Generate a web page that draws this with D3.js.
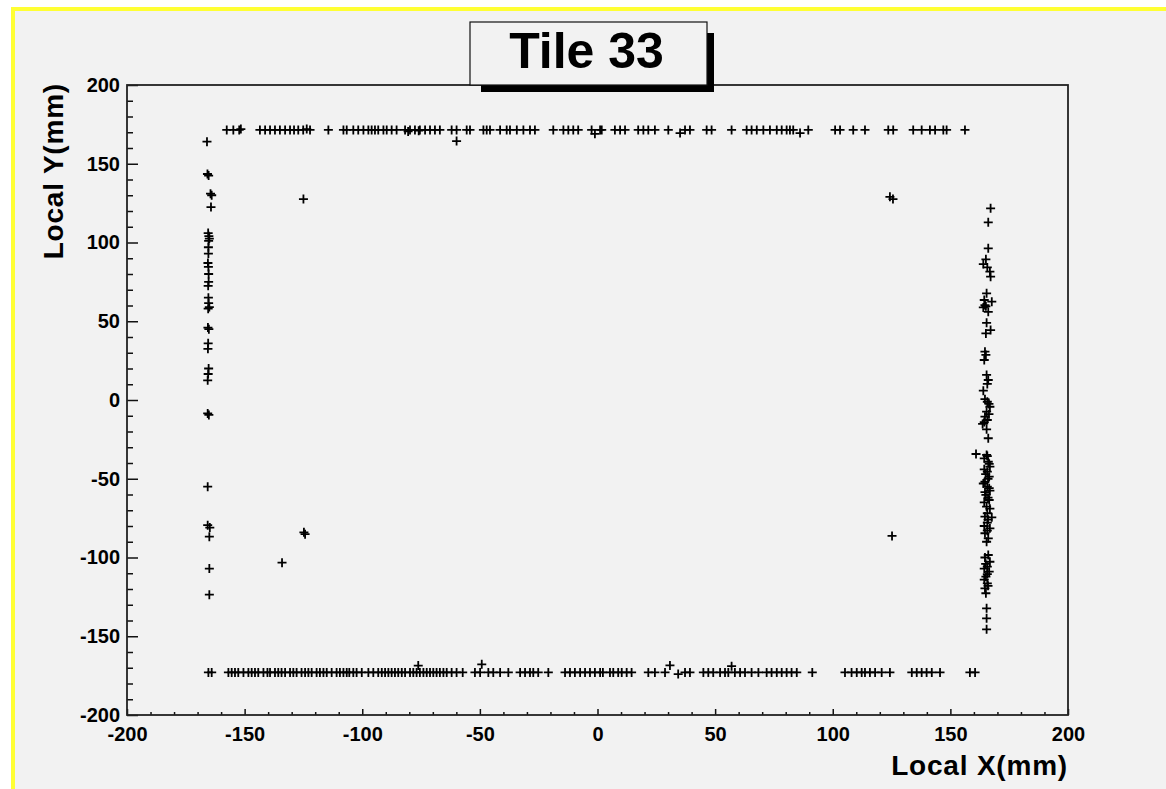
<!DOCTYPE html>
<html>
<head>
<meta charset="utf-8">
<title>Tile 33</title>
<script src="https://cdn.jsdelivr.net/npm/d3@7"></script>
<style>
  body { margin: 0; background: #fff; }
  svg { display: block; font-family: "Liberation Sans", Arial, sans-serif; font-weight: bold; }
</style>
</head>
<body>
<div id="chart"></div>
<script>
// axis ticks (mm)
const xTickLabels = [-200, -150, -100, -50, 0, 50, 100, 150, 200];
const yTickLabels = [-200, -150, -100, -50, 0, 50, 100, 150, 200];

// hits along the top edge [x, y]
const topEdge = [
  [-157.6, 171.5], [-154.8, 171.5], [-152.3, 171.5], [-151.6, 172],
  [-143.5, 171.5], [-141.3, 171.5], [-139.2, 171.5], [-137.1, 171.5], [-135, 171.5], [-132.8, 171.5],
  [-130.7, 171.5], [-129, 171.5], [-127.2, 171.5], [-125.1, 171.5], [-123.6, 172], [-122.2, 171.5],
  [-114.4, 171.5],
  [-108, 171.5], [-106.6, 171.5], [-103.8, 171.5], [-101.7, 171.5], [-99.5, 171.5], [-97.4, 171.5],
  [-96, 171.5], [-94.6, 171.5], [-93.2, 171.5], [-91, 171.5], [-89.6, 171.5], [-87.5, 171.5], [-85.4, 171.5],
  [-81.8, 171.5], [-80.5, 170.5], [-79.7, 171.5], [-77.6, 171.5], [-76, 171], [-75.5, 171.5],
  [-73.3, 171.5], [-71.2, 171.5], [-69.1, 171.5], [-67, 171.5],
  [-62, 171.5], [-59.9, 171.5], [-55.6, 171.5], [-54.2, 171.5],
  [-48.5, 171.5], [-47.1, 171.5], [-45.7, 171.5],
  [-41.4, 171.5], [-38.6, 171.5], [-37.2, 171.5], [-34.3, 171.5],
  [-31.5, 171.5], [-28.7, 171.5], [-26.6, 171.5],
  [-18.8, 171.5], [-14.5, 171.5], [-12.4, 171.5], [-10.3, 171.5], [-8.2, 171.5],
  [-2.5, 171.5], [-1.1, 169], [1.1, 171.5], [1.8, 171.5],
  [7.4, 171.5], [9.6, 171.5], [11.7, 171.5],
  [17.3, 171.5], [19.5, 171.5], [21.6, 171.5], [24.4, 171.5],
  [30.1, 171.5], [35.1, 169.5], [37.2, 171.5], [39.3, 171.5],
  [46.4, 171.5], [48.5, 171.5],
  [57, 171.5],
  [63.4, 171.5], [65.5, 171.5], [67.7, 171.5], [70.5, 171.5], [73.3, 171.5], [76.2, 171.5],
  [78.3, 171.5], [80.4, 171.5], [81.8, 171.5], [83.2, 171.5], [86.1, 169.5], [89.6, 171.5],
  [101, 171.5], [103.1, 171.5], [108.7, 171.5], [113.7, 171.5],
  [123.6, 171.5], [125.7, 171.5],
  [134.2, 171.5], [137.8, 171.5], [141.3, 171.5], [143.5, 171.5], [147, 171.5], [148.4, 171.5],
  [156.2, 171.5]
];

// hits along the bottom edge [x, y]
const bottomEdge = [
  [-165.4, -173], [-164, -173],
  [-156.9, -173], [-155.5, -173], [-154.1, -173], [-152.7, -173], [-150.5, -173], [-148.4, -173],
  [-147, -173], [-145.6, -173], [-144.2, -173], [-142, -173], [-140.3, -173], [-139.2, -173],
  [-137.1, -173], [-135.7, -173], [-134.3, -173], [-132.8, -173], [-130.7, -173], [-129.3, -173],
  [-127.9, -173], [-125.8, -173], [-124.3, -173], [-122.9, -173], [-121.5, -173], [-119.4, -173],
  [-118, -173], [-116.5, -173], [-115.1, -173], [-113, -173], [-110.9, -173], [-109.5, -173],
  [-108, -173], [-106.6, -173], [-105.5, -173], [-103.8, -173], [-102.4, -173], [-100.2, -173],
  [-97.4, -173], [-95.3, -173], [-93.2, -173], [-91.7, -173], [-90.3, -173], [-88.9, -173],
  [-87.5, -173], [-86.1, -173], [-84.7, -173], [-83.2, -173], [-81.8, -173], [-79.7, -173],
  [-78.3, -173], [-76.9, -173], [-76.2, -168.6], [-75.5, -173], [-74, -173], [-72.6, -173],
  [-71.2, -173], [-69.8, -173], [-68.4, -173], [-67, -173], [-65.5, -173], [-64.1, -173],
  [-62, -173], [-59.9, -173], [-57.3, -173],
  [-52.1, -173], [-49.9, -173], [-49.2, -167.8], [-46.4, -173], [-44.3, -173], [-41.4, -173], [-37.9, -173],
  [-32.9, -173], [-30.8, -173], [-28.7, -173], [-27.3, -173], [-25.2, -173], [-20.9, -173],
  [-13.8, -173], [-11.7, -173], [-9.6, -173], [-7.4, -173], [-5.3, -173], [-3.2, -173], [-1.1, -173],
  [1.1, -173], [2.3, -173], [5.3, -173], [6.7, -173], [8.8, -173], [10.3, -173], [12.4, -173], [14.5, -173],
  [21.6, -173], [24.4, -173], [28.7, -173], [30.8, -168.5], [34.3, -174], [37.2, -173], [39.3, -173],
  [45, -173], [47.1, -173], [49.2, -173], [52.1, -173], [54.2, -173], [55.6, -173], [57, -169],
  [58.4, -173], [60.6, -173], [62.7, -173], [65.5, -173], [68.4, -173],
  [71.9, -173], [74, -173], [76.2, -173], [78.3, -173], [80.4, -173], [82.5, -173], [84.7, -173],
  [91.3, -173],
  [105.2, -173], [108, -173], [110.2, -173], [112.3, -173], [113.7, -173], [115.8, -173],
  [118, -173], [120.8, -173], [124.3, -173],
  [133.6, -173], [135.7, -173], [137.8, -173], [139.9, -173], [142.1, -173], [145.6, -173],
  [158.3, -173], [160.5, -173]
];

// hits along the left edge [x, y]
const leftEdge = [
  [-166, 164], [-165.8, 143.5], [-165.3, 142.5], [-164.5, 131], [-164, 130], [-164.3, 122.5],
  [-165.5, 106], [-165.2, 104], [-165, 102.5], [-165.3, 101], [-165.4, 97], [-165.4, 93],
  [-165.6, 87], [-165.4, 84.5], [-165.3, 80], [-165.3, 75], [-165.5, 72.5], [-165.4, 65],
  [-165.3, 61.5], [-165, 59], [-165.5, 58], [-165.6, 46], [-165.2, 45], [-165.5, 36],
  [-165.6, 32.5], [-165.3, 20], [-165.5, 16.5], [-165.7, 12.5], [-165.7, -8.5], [-165.2, -9.5],
  [-165.7, -55], [-165.7, -79.5], [-164.8, -81], [-165, -86.8], [-165, -107], [-165, -123.6]
];

// hits along the right edge [x, y]
const rightEdge = [
  [167.1, 121.7], [166.1, 112.8], [166.1, 96.3], [165.1, 89.3], [164, 86.3], [165.7, 84.2],
  [166.8, 81.5], [167.1, 78.3], [165.4, 67.7], [164.4, 63.5], [167.6, 62.4], [164.7, 60.3], [165.1, 59.5],
  [164, 58.8], [166.1, 56], [165.4, 49], [167.1, 44.4], [165.1, 42.3], [164.7, 30.7], [165.1, 28.6],
  [164.4, 25.4], [165.4, 15.9], [166.1, 12.7], [165.7, 10.2], [164, 5.9], [164.7, 0.5], [165.7, -1.1],
  [166.4, -2.5], [166.8, -4.3], [165.4, -7.4], [166.4, -9], [164.7, -10.6], [165.7, -12.7], [164.4, -14],
  [163.7, -15.2], [165.4, -18.6], [166.1, -24.3], [160.9, -34.3], [165.7, -35.6],
  [165.4, -34.9], [164.4, -37], [166.1, -39.2], [166.5, -40.5], [166.8, -42.3], [164.4, -44],
  [165.7, -45.5], [165, -47], [166.5, -48.7], [166, -50], [164.7, -51.9], [164, -53], [165.7, -55],
  [166.5, -56], [166.8, -57.6], [164.7, -58.5], [165.1, -60.3], [166, -62], [166.5, -63.5],
  [164.4, -65], [165.4, -67.7], [166.8, -69], [165.7, -71.9], [164.7, -74], [167.6, -74.5],
  [166, -76], [165.7, -77.9], [164.4, -80], [166.8, -81.5], [165.7, -83], [164.7, -84.6],
  [166.1, -87.8], [165.4, -90],
  [166.1, -98.4], [164.7, -100], [166.8, -102.7], [165, -104], [165.7, -105.8], [164.4, -107],
  [166.5, -109], [165.7, -110.5], [165.1, -112.2], [164.4, -114], [165.7, -116.4], [166, -118],
  [164.7, -119.6], [165.1, -122.7],
  [165.4, -132.3], [165.4, -138.6], [165.4, -145.6]
];

// isolated hits inside the tile
const strayHits = [
  [-125, 127.6], [124.3, 129], [125.6, 127.6], [-59.9, 164.4],
  [-124.8, -84], [-124.3, -85.2], [-134.1, -103.3], [125.2, -86.3]
];

const W = 1166, H = 789;
const plot = { left: 127, top: 85, right: 1068, bottom: 715 };

const svg = d3.select('#chart').append('svg')
  .attr('width', W)
  .attr('height', H);

// canvas: white page, yellow edge, grey pad
svg.append('rect').attr('width', W).attr('height', H).attr('fill', '#fff');
svg.append('rect').attr('x', 11).attr('y', 7).attr('width', W).attr('height', H).attr('fill', '#ffff33');
svg.append('rect').attr('x', 15).attr('y', 11).attr('width', W).attr('height', H).attr('fill', '#f2f2f2');

const x = d3.scaleLinear().domain([-200, 200]).range([plot.left, plot.right]);
const y = d3.scaleLinear().domain([-200, 200]).range([plot.bottom, plot.top]);

// minor ticks every 10 mm, major every 50 mm, drawn inward
const minorX = d3.range(-200, 201, 10).filter(v => !xTickLabels.includes(v));
const minorY = d3.range(-200, 201, 10).filter(v => !yTickLabels.includes(v));
const plain = d => String(d); // ASCII hyphen, like ROOT

const xAxisG = svg.append('g').attr('transform', `translate(0,${plot.bottom})`);
xAxisG.append('g')
  .call(d3.axisBottom(x).tickValues(minorX).tickSize(-3).tickFormat(''));
xAxisG.append('g')
  .call(d3.axisBottom(x).tickValues(xTickLabels).tickSize(-6).tickPadding(12).tickFormat(plain));

const yAxisG = svg.append('g').attr('transform', `translate(${plot.left},0)`);
yAxisG.append('g')
  .call(d3.axisLeft(y).tickValues(minorY).tickSize(-6).tickFormat(''));
yAxisG.append('g')
  .call(d3.axisLeft(y).tickValues(yTickLabels).tickSize(-11).tickPadding(7).tickFormat(plain));

svg.selectAll('.domain').remove();
svg.selectAll('.tick line').attr('stroke', '#111').attr('stroke-width', 1.5);
svg.selectAll('.tick text')
  .attr('fill', '#000')
  .style('font-family', '"Liberation Sans", Arial, sans-serif')
  .style('font-weight', 'bold')
  .style('font-size', '20px');

// frame
svg.append('rect')
  .attr('x', plot.left).attr('y', plot.top)
  .attr('width', plot.right - plot.left).attr('height', plot.bottom - plot.top)
  .attr('fill', 'none')
  .attr('stroke', '#222')
  .attr('stroke-width', 1.8);

// markers: ROOT style "+"
const allHits = [].concat(topEdge, bottomEdge, leftEdge, rightEdge, strayHits);
svg.append('g')
  .selectAll('path')
  .data(allHits)
  .join('path')
  .attr('transform', d => `translate(${x(d[0])},${y(d[1])})`)
  .attr('d', 'M-4.5,0H4.5M0,-4.5V4.5')
  .attr('fill', 'none')
  .attr('stroke', '#000')
  .attr('stroke-width', 1.8);

// axis titles
svg.append('text')
  .attr('x', plot.right)
  .attr('y', 775)
  .attr('text-anchor', 'end')
  .style('font-size', '28px')
  .style('letter-spacing', '0.8px')
  .text('Local X(mm)');

svg.append('text')
  .attr('transform', `translate(63,${plot.top - 2}) rotate(-90)`)
  .attr('text-anchor', 'end')
  .style('font-size', '28px')
  .style('letter-spacing', '0.8px')
  .text('Local Y(mm)');

// title box with shadow
const box = { x: 470, y: 22, w: 237, h: 63, shadow: 7 };
svg.append('rect')
  .attr('x', box.x + 11).attr('y', box.y + 11)
  .attr('width', box.w - 4).attr('height', box.h - 4)
  .attr('fill', '#000');
svg.append('rect')
  .attr('x', box.x).attr('y', box.y)
  .attr('width', box.w).attr('height', box.h)
  .attr('fill', '#f2f2f2')
  .attr('stroke', '#111')
  .attr('stroke-width', 1.2);
svg.append('text')
  .attr('x', box.x + box.w / 2 - 2)
  .attr('y', 68)
  .attr('text-anchor', 'middle')
  .style('font-size', '50px')
  .text('Tile 33');
</script>
</body>
</html>
